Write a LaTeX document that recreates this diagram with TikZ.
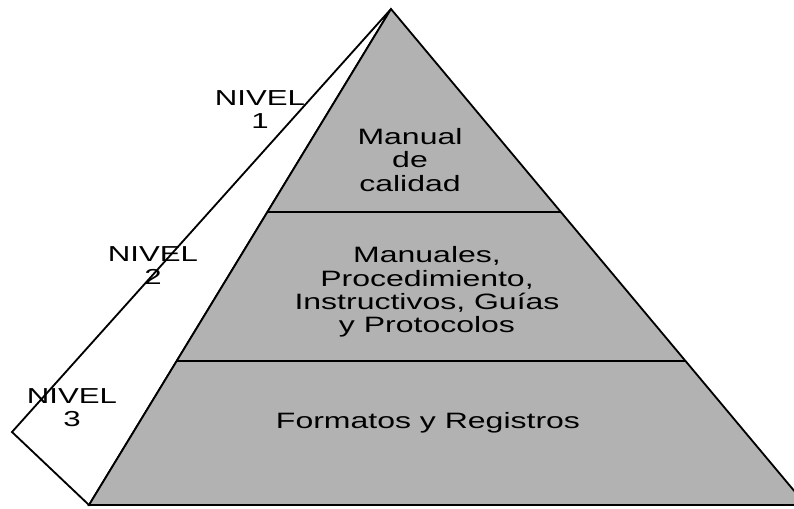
\documentclass[tikz,border=0pt]{standalone}
\usepackage{fontspec}
\setmainfont{Liberation Sans}[FakeStretch=1.44]
\usepackage{tikz}
\usetikzlibrary{calc}

\begin{document}
\begin{tikzpicture}[x=0.025cm, y=-0.025cm,
            face line/.style={draw=black, line width=1.3pt},
            level text/.style={align=center, inner sep=0pt, font=\fontsize{15.8}{16.7}\selectfont},
            nivel label/.style={align=center, inner sep=0pt, font=\fontsize{15.4}{16.4}\selectfont},
            ]
            \useasboundingbox (0,0) rectangle (794,508);

            \coordinate (apex) at (391,9);
            \coordinate (back) at (12,432);
            \coordinate (bl) at (89,505);
            \coordinate (br) at (806,505);

            % lateral face
            \filldraw[face line, fill=white] (apex) -- (back) -- (bl) -- cycle;
            % front face
            \filldraw[face line, fill=black!30] (apex) -- (bl) -- (br) -- cycle;

            \coordinate (d1l) at ($(apex)!0.4093!(bl)$);
            \coordinate (d1r) at ($(apex)!0.4093!(br)$);
            \coordinate (d2l) at ($(apex)!0.7097!(bl)$);
            \coordinate (d2r) at ($(apex)!0.7097!(br)$);
            \draw[face line] (d1l) -- (d1r);
            \draw[face line] (d2l) -- (d2r);

            \node[level text] (calidad) at (410,160) {Manual\\de\\calidad};
            \node[level text] (manuales) at (427,292) {Manuales,\\Procedimiento,\\Instructivos, Guías\\y Protocolos};
            \node[level text] (formatos) at (428,423) {Formatos y Registros};

            \node[nivel label] (nivel1) at (260,110) {NIVEL\\1};
            \node[nivel label] (nivel2) at (153,266) {NIVEL\\2};
            \node[nivel label] (nivel3) at (72,408) {NIVEL\\3};
        \end{tikzpicture}
\end{document}
